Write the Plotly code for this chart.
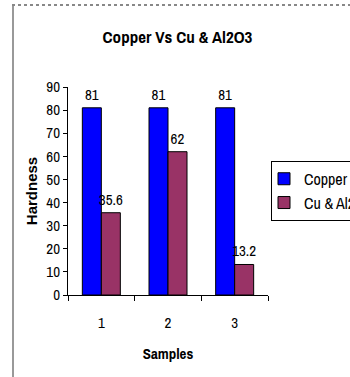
import plotly.graph_objects as go

samples = ["1", "2", "3"]
copper = [81, 81, 81]
cu_al2o3 = [35.6, 62, 13.2]
copper_labels = ["81", "81", "81"]
cu_labels = ["35.6", "62", "13.2"]
y_ticks = [0, 10, 20, 30, 40, 50, 60, 70, 80, 90]

NARROW = "Archivo Narrow, Roboto Condensed, Liberation Sans Narrow, Arial Narrow, sans-serif"
SANS = "Liberation Sans, Arial, sans-serif"

fig = go.Figure()
fig.add_trace(go.Bar(
    x=samples, y=copper, name="Copper", text=copper_labels,
    textposition="outside", constraintext="none", legendgroup="copper",
    marker=dict(color="#0000FF", line=dict(color="black", width=1)),
    textfont=dict(size=15, color="black", family=NARROW), cliponaxis=False,
))
fig.add_trace(go.Bar(
    x=samples, y=cu_al2o3, name="Cu & Al2O3", text=cu_labels,
    textposition="outside", constraintext="none", legendgroup="cu",
    marker=dict(color="#993366", line=dict(color="black", width=1)),
    textfont=dict(size=15, color="black", family=NARROW), cliponaxis=False,
))

fig.update_layout(
    width=350, height=377,
    margin=dict(l=68, r=82, t=87, b=82, autoexpand=False),
    paper_bgcolor="white", plot_bgcolor="white",
    font=dict(family=NARROW, size=15, color="black"),
    title=dict(text="<b>Copper Vs Cu & Al2O3</b>", xref="container", x=0.507,
               xanchor="center", yref="container", y=0.902, yanchor="middle",
               font=dict(size=17, family=NARROW)),
    barmode="group", bargap=0.43, bargroupgap=0,
    showlegend=True,
    legend=dict(x=1.015, y=0.645, xanchor="left", yanchor="top",
                bordercolor="black", borderwidth=1, bgcolor="white",
                font=dict(size=16, family=NARROW), indentation=-8,
                tracegroupgap=6, traceorder="normal"),
    xaxis=dict(title=dict(text="<b>Samples</b>", font=dict(size=15), standoff=16),
               showline=True, linecolor="black", linewidth=1,
               ticks="outside", tickson="boundaries", ticklen=5, tickcolor="black",
               ticklabelstandoff=14, showgrid=False),
    yaxis=dict(title=dict(text="<b>Hardness</b>", font=dict(size=15, family=SANS), standoff=5),
               range=[0, 90], tickvals=y_ticks, showline=True, linecolor="black",
               linewidth=1, ticks="outside", ticklen=4, tickcolor="black",
               showgrid=False, zeroline=False),
    shapes=[
        dict(type="line", xref="paper", yref="paper",
             x0=(13 - 68) / 200, x1=(13 - 68) / 200,
             y0=(295 - 6) / 208, y1=(295 - 377) / 208,
             line=dict(color="#999999", width=2)),
        dict(type="line", xref="paper", yref="paper",
             x0=(12 - 68) / 200, x1=(350 - 68) / 200,
             y0=(295 - 5) / 208, y1=(295 - 5) / 208,
             line=dict(color="#888888", width=2, dash="dot")),
    ],
)

fig.write_html("out.html", config={"displayModeBar": False},
               post_script="document.body.style.margin='0';")
